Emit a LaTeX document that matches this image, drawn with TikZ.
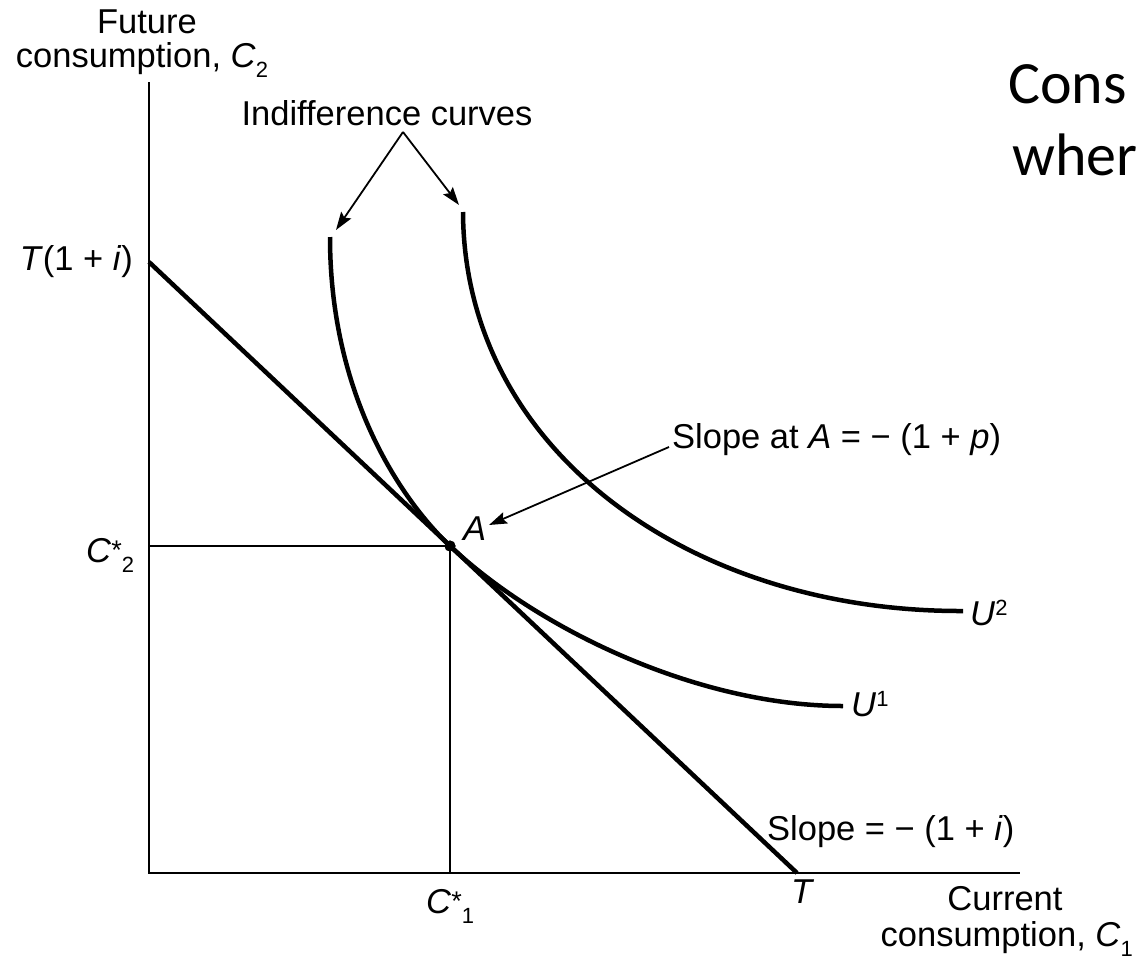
\documentclass[tikz,border=0pt]{standalone}
\usepackage{fontspec}
\setmainfont{Liberation Sans}
\newfontfamily\calfont{Carlito}
\usetikzlibrary{arrows.meta}
\newcommand\lbl{\fontsize{34.5}{40}\selectfont}
\newcommand\mysup[1]{\raisebox{9.5pt}{\fontsize{22}{22}\selectfont #1}}
\newcommand\mystar{\raisebox{3pt}{\fontsize{27}{27}\selectfont *}}
\newcommand\mysub[1]{\raisebox{-10pt}{\fontsize{22}{22}\selectfont #1}}
\begin{document}
\begin{tikzpicture}[x=1pt,y=-1pt,
  every node/.style={inner sep=0pt,font=\lbl},
  axis/.style={line width=2pt},
  guide/.style={line width=1.7pt},
  budget/.style={line width=4.5pt},
  iccurve/.style={line width=4.5pt},
  pointer/.style={line width=1.8pt,-{Stealth[length=18pt,width=12pt,inset=3pt]}}]
\useasboundingbox (0,0) rectangle (1136,959);
\clip (0,0) rectangle (1136,959);
% axes
\coordinate (O) at (149,873);
\coordinate (Ytop) at (149,82);
\coordinate (Xend) at (1020,873);
\coordinate (Yint) at (149,262);
\coordinate (Tint) at (797,873);
\coordinate (Ax) at (450,873);
\coordinate (Ay) at (149,546);
\node[circle,fill,minimum size=11pt] (A) at (450,546) {};
\draw[axis] (Ytop) -- (O) -- (Xend);
\draw[guide] (Ay) -- (A.center) -- (Ax);
\draw[budget] (Yint) -- (Tint);
% indifference curves
\coordinate (u1top) at (330,237);
\coordinate (u1end) at (843,706);
\coordinate (u2top) at (463,212);
\coordinate (u2end) at (963,611);
\draw[iccurve] (u1top) .. controls (330,400) and (405,503.6) .. (A.center)
                       .. controls (540,630.9) and (700,706) .. (u1end);
\draw[iccurve] (u2top) .. controls (464,450) and (690,612) .. (u2end);
\node[circle,fill,minimum size=11pt] at (A) {};
% axis labels
\node[anchor=base] (fut) at (147,33) {Future};
\node[anchor=base] (cons2) at (142,67) {consumption, \textit{C}\mysub{2}};
\node[anchor=base] (cur) at (1005,910) {Current};
\node[anchor=base east] (cons1) at (1133,946) {consumption, \textit{C}\mysub{1}};
\node[anchor=base east] (Tli) at (133,270) {\textit{T}(1 + \textit{i})};
\node[anchor=base west] (c2s) at (86,562) {\textit{C}\mystar\mysub{2}};
\node[anchor=base west] (c1s) at (426,913) {\textit{C}\mystar\mysub{1}};
\node[anchor=base west] (Tl) at (791,903) {\textit{T}};
% curve labels
\node[anchor=base west] (u2) at (970,625) {\textit{U}\mysup{2}};
\node[anchor=base west] (u1) at (851,716) {\textit{U}\mysup{1}};
\node[anchor=base west] (al) at (463,540) {\textit{A}};
\node[anchor=base west] (slope) at (767,840) {Slope = − (1 + \textit{i})};
\node[anchor=base west] (slopeA) at (672,448) {Slope at \textit{A} = − (1 + \textit{p})};
\node[anchor=base] (icl) at (387,125) {Indifference curves};
% pointers
\coordinate (icapex) at (403,132);
\coordinate (tip1) at (336,230);
\coordinate (tip2) at (459,205);
\coordinate (sAstart) at (669,447);
\coordinate (tipA) at (489,525);
\draw[pointer] (icapex) -- (tip1);
\draw[pointer] (icapex) -- (tip2);
\draw[pointer] (sAstart) -- (tipA);
% slide text
\node[anchor=base west,font=\calfont\fontsize{60}{72}\selectfont] (tc) at (1008,103) {Cons};
\node[anchor=base west,font=\calfont\fontsize{60}{72}\selectfont] (tw) at (1012,175) {wher};
\end{tikzpicture}
\end{document}
